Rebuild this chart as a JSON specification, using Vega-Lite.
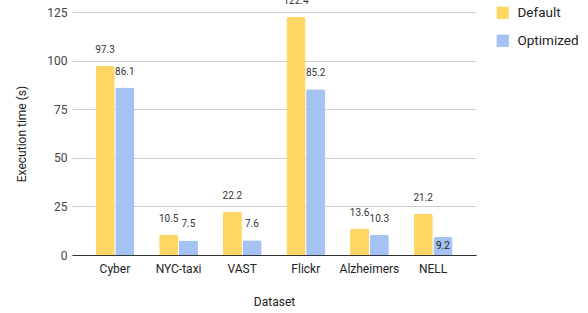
{
  "$schema": "https://vega.github.io/schema/vega-lite/v6.json",
  "autosize": {"type": "none"},
  "width": 404,
  "height": 243,
  "padding": {"left": 72, "top": 12, "right": 112, "bottom": 58},
  "config": {
    "font": "Roboto",
    "view": {"stroke": null}
  },
  "data": {
    "values": [
      {"dataset": "Cyber", "series": "Default", "time": 97.3},
      {"dataset": "Cyber", "series": "Optimized", "time": 86.1},
      {"dataset": "NYC-taxi", "series": "Default", "time": 10.5},
      {"dataset": "NYC-taxi", "series": "Optimized", "time": 7.5},
      {"dataset": "VAST", "series": "Default", "time": 22.2},
      {"dataset": "VAST", "series": "Optimized", "time": 7.6},
      {"dataset": "Flickr", "series": "Default", "time": 122.4},
      {"dataset": "Flickr", "series": "Optimized", "time": 85.2},
      {"dataset": "Alzheimers", "series": "Default", "time": 13.6},
      {"dataset": "Alzheimers", "series": "Optimized", "time": 10.3},
      {"dataset": "NELL", "series": "Default", "time": 21.2},
      {"dataset": "NELL", "series": "Optimized", "time": 9.2}
    ]
  },
  "encoding": {
    "x": {
      "field": "dataset",
      "type": "nominal",
      "sort": null,
      "title": "Dataset",
      "scale": {"paddingInner": 0.39, "paddingOuter": 0.37},
      "axis": {
        "labelAngle": 0,
        "labelFontSize": 12,
        "labelColor": "#222222",
        "labelPadding": 8,
        "ticks": false,
        "domain": true,
        "domainColor": "#333333",
        "domainWidth": 1,
        "titleFontSize": 12,
        "titleFontWeight": "normal",
        "titleColor": "#222222",
        "titlePadding": 22
      }
    },
    "xOffset": {"field": "series", "type": "nominal", "scale": {"paddingInner": 0.03}},
    "y": {
      "field": "time",
      "type": "quantitative",
      "title": "Execution time (s)",
      "scale": {"domain": [0, 125], "nice": false},
      "axis": {
        "values": [0, 25, 50, 75, 100, 125],
        "labelFontSize": 12,
        "labelColor": "#444444",
        "labelPadding": 5,
        "ticks": false,
        "domain": false,
        "gridColor": "#cccccc",
        "titleFontSize": 12,
        "titleFontWeight": "normal",
        "titleColor": "#222222",
        "titlePadding": 18
      }
    }
  },
  "layer": [
    {
      "mark": {"type": "bar", "cornerRadiusTopLeft": 2, "cornerRadiusTopRight": 2},
      "encoding": {
        "color": {
          "field": "series",
          "type": "nominal",
          "title": null,
          "scale": {"domain": ["Default", "Optimized"], "range": ["#FDD663", "#A4C2F4"]},
          "legend": {
            "orient": "none",
            "legendX": 424,
            "legendY": -6,
            "symbolType": "square",
            "symbolSize": 150,
            "symbolStrokeWidth": 0,
            "labelFontSize": 13.5,
            "labelColor": "#222222",
            "rowPadding": 13,
            "labelOffset": 8
          }
        }
      }
    },
    {
      "transform": [{"filter": "!(datum.dataset === 'NELL' && datum.series === 'Optimized')"}],
      "mark": {"type": "text", "baseline": "middle", "dy": -16, "fontSize": 10, "color": "#333333"},
      "encoding": {
        "text": {"field": "time", "type": "quantitative", "format": ".1f"}
      }
    },
    {
      "transform": [{"filter": "datum.dataset === 'NELL' && datum.series === 'Optimized'"}],
      "mark": {"type": "text", "baseline": "middle", "dy": 9, "fontSize": 10, "color": "#222222"},
      "encoding": {
        "text": {"field": "time", "type": "quantitative", "format": ".1f"}
      }
    }
  ]
}
